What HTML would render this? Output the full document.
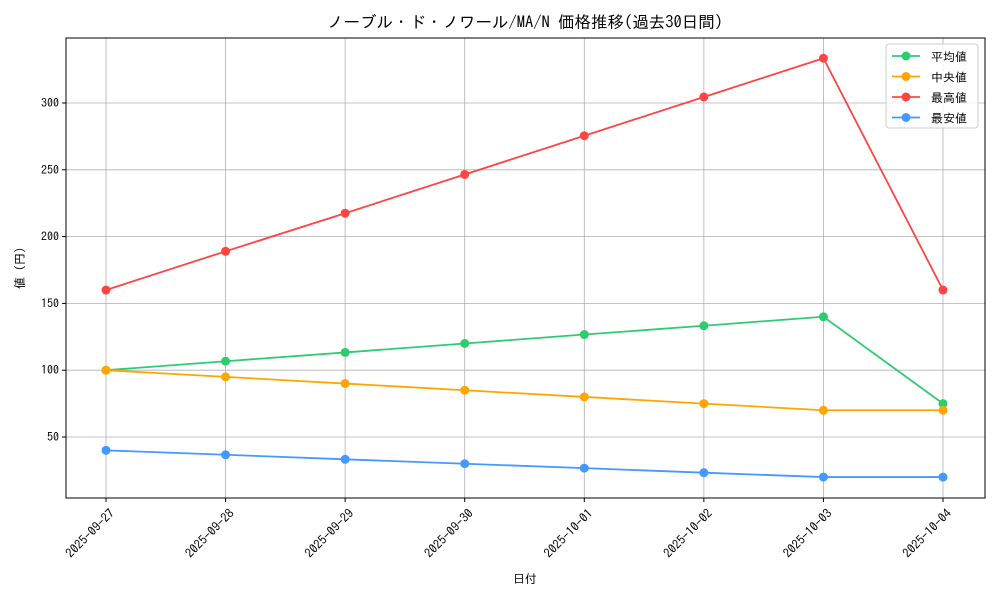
<!DOCTYPE html>
<html><head><meta charset="utf-8"><style>
body{margin:0;background:#fff}
svg text{font-family:"IPAGothic","Noto Sans CJK JP",sans-serif;fill:#000}
</style></head><body>
<svg id="c" width="1000" height="600">
<rect x="0" y="0" width="1000" height="600" fill="#fff"/>
<g id="grid"></g><g id="series"></g><g id="axes"></g>
<text x="525" y="28" font-size="16.5" text-anchor="middle">ノーブル・ド・ノワール/MA/N 価格推移(過去30日間)</text>
<text x="525" y="583" font-size="12" text-anchor="middle">日付</text>
<text transform="translate(24,268) rotate(-90)" font-size="12" text-anchor="middle">値 (円)</text>
<g id="legend"></g>
</svg>
<script>
const categories=["2025-09-27","2025-09-28","2025-09-29","2025-09-30","2025-10-01","2025-10-02","2025-10-03","2025-10-04"];
const avgValues=[100,106.7,113.3,120,126.7,133.3,140,75];
const medianValues=[100,95,90,85,80,75,70,70];
const maxValues=[160,189,217.5,246.5,275.5,304.5,333.5,160];
const minValues=[40,36.7,33.3,30,26.7,23.3,20,20];
const yTicks=[50,100,150,200,250,300];
const seriesNames=["平均値","中央値","最高値","最安値"];
const colors=["#2ecc71","#ffa500","#ff4444","#4499ff"];
const L=66,R=985,T=38,B=498;
const xs=i=>106+i*(943-106)/(categories.length-1);
const ys=v=>437-(v-50)*334/250;
const NS="http://www.w3.org/2000/svg";
function mk(p,t,a){const e=document.createElementNS(NS,t);for(const k in a)e.setAttribute(k,a[k]);p.appendChild(e);return e;}
const grid=document.getElementById('grid'),axes=document.getElementById('axes'),ser=document.getElementById('series'),leg=document.getElementById('legend');
categories.forEach((c,i)=>{
 const g=mk(grid,'line',{x1:xs(i),x2:xs(i),y1:T,y2:B,stroke:'#b0b0b0','stroke-width':0.8});
 
 
 mk(axes,'line',{x1:xs(i),x2:xs(i),y1:B,y2:B+4,stroke:'#000'});
 const t=mk(axes,'text',{transform:`translate(${xs(i)+3},${B+10}) rotate(-45)`,'font-size':12.5,'text-anchor':'end','dominant-baseline':'hanging'});
 t.textContent=c;
 
 
});
yTicks.forEach(v=>{
 const g=mk(grid,'line',{x1:L,x2:R,y1:ys(v),y2:ys(v),stroke:'#b0b0b0','stroke-width':0.8});
 
 
 mk(axes,'line',{x1:L-4,x2:L,y1:ys(v),y2:ys(v),stroke:'#000'});
 const t=mk(axes,'text',{x:L-7,y:ys(v)+4,'font-size':12,'text-anchor':'end'});
 t.textContent=v;
 
 
});
const fr=mk(axes,'rect',{x:L,y:T,width:R-L,height:B-T,fill:'none',stroke:'#000','stroke-width':1});


[avgValues,medianValues,maxValues,minValues].forEach((vals,s)=>{
 const p=mk(ser,'polyline',{points:vals.map((v,i)=>xs(i)+','+ys(v)).join(' '),fill:'none',stroke:colors[s],'stroke-width':1.8});
 
 
 vals.forEach((v,i)=>{
  const c=mk(ser,'circle',{cx:xs(i),cy:ys(v),r:4.5,fill:colors[s]});
  
  
 });
});
const lb=mk(leg,'rect',{x:886,y:44,width:92,height:84,rx:3,fill:'#fff',stroke:'#ccc','fill-opacity':0.8});


seriesNames.forEach((n,s)=>{
 const y=56+s*20.5;
 const g=mk(leg,'g',{});
 
 
 mk(g,'line',{x1:892,x2:920,y1:y,y2:y,stroke:colors[s],'stroke-width':1.8});
 mk(g,'circle',{cx:906,cy:y,r:4.5,fill:colors[s]});
 const t=mk(g,'text',{x:931,y:y+5,'font-size':12});
 t.textContent=n;
});
</script>
</body></html>
